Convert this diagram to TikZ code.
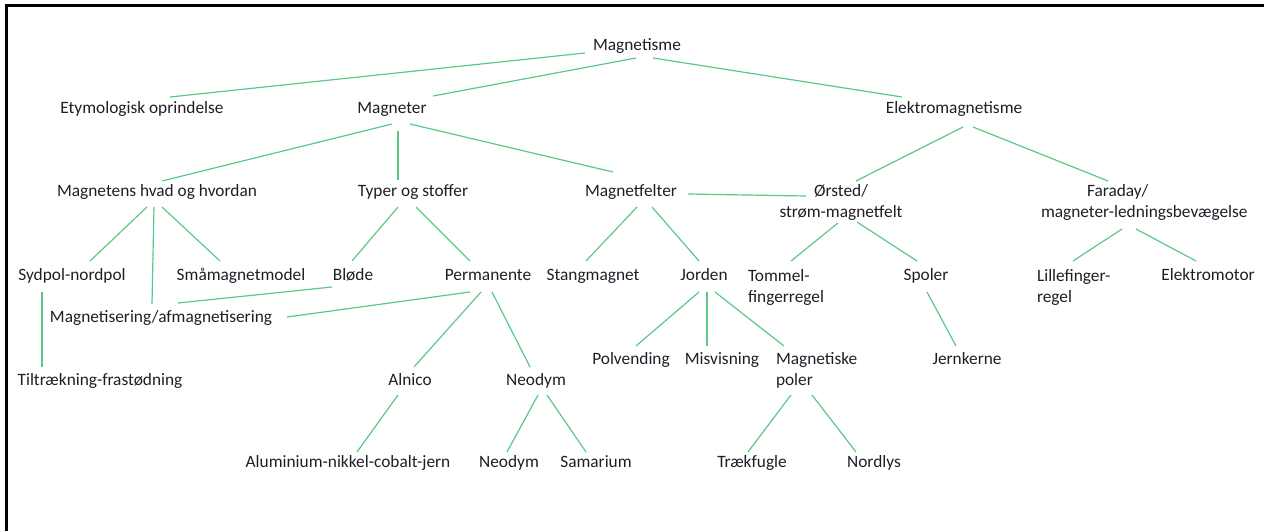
\documentclass[tikz,border=0pt]{standalone}
\usepackage{fontspec}
\setmainfont{Carlito}
\usetikzlibrary{calc}
\definecolor{linkgreen}{RGB}{92,200,135}
\definecolor{inkcol}{RGB}{30,30,40}
% connector between two named nodes, each end given as an offset from the node's anchor
\newcommand{\link}[4]{\draw[linkline] ($(#1)+(#2)$) -- ($(#3)+(#4)$);}
\begin{document}
\begin{tikzpicture}[x=0.75pt,y=-0.75pt,
  lbl/.style={inner sep=0pt, outer sep=0pt, anchor=base,
    font=\fontsize{13}{15.75}\selectfont, text=inkcol},
  lblleft/.style={lbl, anchor=base west, align=left},
  linkline/.style={draw=linkgreen, line width=0.9pt},
  frameline/.style={draw=black, line width=1.9pt}]
\useasboundingbox (0,0) rectangle (1264,531);
% frame
\coordinate (ftl) at (6.5,5.5);
\coordinate (ftr) at (1264,5.5);
\coordinate (fbl) at (6.5,531);
\draw[frameline] (ftr) -- (ftl) -- (fbl);

% level 0 and 1
\node[lbl] (mag) at (637,51) {Magnetisme};
\node[lbl] (ety) at (142,114) {Etymologisk oprindelse};
\node[lbl] (mgn) at (392,114) {Magneter};
\node[lbl] (elm) at (954,114) {Elektromagnetisme};

% level 2 (two-line labels are placed by the baseline of their last line)
\node[lbl] (hvad) at (157,197) {Magnetens hvad og hvordan};
\node[lbl] (typer) at (413,197) {Typer og stoffer};
\node[lbl] (felt) at (631,197) {Magnetfelter};
\node[lbl, align=center] (orsted) at (841,218) {Ørsted/\\strøm-magnetfelt};
\node[lblleft] (farad) at (1041,218) {\hspace*{34.5pt}Faraday/\\magneter-ledningsbevægelse};

% level 3
\node[lbl] (syd) at (72,281) {Sydpol-nordpol};
\node[lbl] (sma) at (241,281) {Småmagnetmodel};
\node[lbl] (blode) at (353,281) {Bløde};
\node[lbl] (perm) at (488,281) {Permanente};
\node[lbl] (stang) at (593,281) {Stangmagnet};
\node[lbl] (jord) at (704,281) {Jorden};
\node[lblleft] (tommel) at (748,302) {Tommel-\\fingerregel};
\node[lbl] (spoler) at (926,281) {Spoler};
\node[lblleft] (lille) at (1037,302) {Lillefinger-\\regel};
\node[lbl] (emotor) at (1208,281) {Elektromotor};
\node[lbl] (magafm) at (161,322) {Magnetisering/afmagnetisering};

% level 4
\node[lbl] (polv) at (631,364) {Polvending};
\node[lbl] (misv) at (722,364) {Misvisning};
\node[lblleft] (mpoler) at (776,385) {Magnetiske\\poler};
\node[lbl] (jern) at (967,364) {Jernkerne};
\node[lbl] (tilt) at (100,385) {Tiltrækning-frastødning};
\node[lbl] (alnico) at (410,385) {Alnico};
\node[lbl] (neo) at (536,385) {Neodym};

% level 5
\node[lbl] (alu) at (348,467) {Aluminium-nikkel-cobalt-jern};
\node[lbl] (neoB) at (509,467) {Neodym};
\node[lbl] (sam) at (596,467) {Samarium};
\node[lbl] (trak) at (752,467) {Trækfugle};
\node[lbl] (nord) at (874,467) {Nordlys};

% connectors
\link{mag.base}{-52,2}{ety.base}{28,-17}
\link{mag.base}{-1,7}{mgn.base}{41,-18}
\link{mag.base}{16,7}{elm.base}{-52,-17}
\link{mgn.base}{0,10}{hvad.base}{5,-16}
\link{mgn.base}{6,17}{typer.base}{-15,-17}
\link{mgn.base}{18,10}{felt.base}{-18,-25}
\link{elm.base}{9,13}{orsted.base}{15,-37}
\link{elm.base}{19,13}{farad.base west}{67,-37}
\link{hvad.base}{-10,10}{syd.base}{18,-20}
\link{hvad.base}{-3,10}{magafm.base}{-9,-18}
\link{hvad.base}{5,10}{sma.base}{-21,-20}
\link{typer.base}{-15,10}{blode.base}{-1,-20}
\link{typer.base}{3,10}{perm.base}{-18,-20}
\link{blode.base}{-21,6}{magafm.base}{17,-19}
\link{perm.base}{-18,11}{magafm.base}{126,-5}
\link{perm.base}{-7,11}{alnico.base}{4,-18}
\link{perm.base}{4,11}{neo.base}{-6,-18}
\link{felt.base}{6,10}{stang.base}{-7,-20}
\link{felt.base}{21,10}{jord.base}{-5,-20}
\link{felt.base}{57,-3}{orsted.base}{-35,-22}
\link{orsted.base}{-3,5}{tommel.base west}{43,-41}
\link{orsted.base}{16,4}{spoler.base}{-9,-20}
\link{farad.base west}{81,11}{lille.base west}{36,-41}
\link{farad.base west}{95,11}{emotor.base}{-12,-20}
\link{spoler.base}{1,11}{jern.base}{-11,-18}
\link{jord.base}{-5,11}{polv.base}{5,-18}
\link{jord.base}{3,11}{misv.base}{-15,-18}
\link{jord.base}{11,11}{mpoler.base west}{8,-39}
\link{syd.base}{-30,11}{tilt.base}{-58,-18}
\link{alnico.base}{-12,10}{alu.base}{9,-15}
\link{neo.base}{2,10}{neoB.base}{-2,-15}
\link{neo.base}{11,10}{sam.base}{-10,-15}
\link{mpoler.base west}{15,10}{trak.base}{-4,-15}
\link{mpoler.base west}{36,10}{nord.base}{-18,-15}
\end{tikzpicture}
\end{document}
